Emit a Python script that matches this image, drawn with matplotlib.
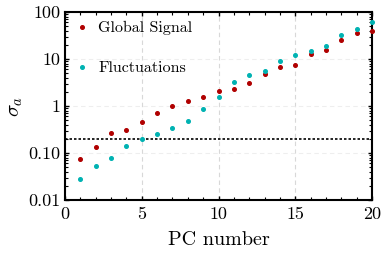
import matplotlib
matplotlib.use("Agg")
import matplotlib.pyplot as plt
from matplotlib.ticker import (FixedLocator, FixedFormatter, LogLocator,
                               NullFormatter, MultipleLocator)

plt.rcParams["font.family"] = "serif"
plt.rcParams["font.serif"] = ["cmr10"]
plt.rcParams["mathtext.fontset"] = "cm"
plt.rcParams["axes.unicode_minus"] = False

PC = list(range(1, 21))
GLOBAL_SIGNAL = [0.075, 0.131, 0.263, 0.315, 0.45, 0.71, 1.0, 1.30, 1.58, 2.11,
                 2.26, 3.07, 4.77, 6.7, 7.5, 12.5, 15.9, 25.9, 35.3, 40.2]
FLUCTUATIONS = [0.028, 0.054, 0.078, 0.144, 0.20, 0.251, 0.347, 0.473, 0.864, 1.53,
                3.23, 4.47, 5.52, 9.0, 11.9, 14.7, 18.7, 32.0, 43.6, 60.4]
THRESHOLD = 0.2
YTICKS = [0.01, 0.1, 1, 10, 100]
YTICK_LABELS = ["0.01", "0.10", "1", "10", "100"]

RED = "#b00000"
CYAN = "#00b2b2"

fig = plt.figure(figsize=(3.82, 2.56), dpi=100)
ax = fig.add_axes([65 / 382, 56 / 256, 307 / 382, 188 / 256])

ax.plot(PC, GLOBAL_SIGNAL, "o", color=RED, markersize=2.6, label="Global Signal",
        clip_on=False, zorder=3)
ax.plot(PC, FLUCTUATIONS, "o", color=CYAN, markersize=2.6, label="Fluctuations",
        clip_on=False, zorder=3)
ax.axhline(THRESHOLD, color="black", linestyle=(0, (1.5, 1.2)), linewidth=1.2)

ax.set_yscale("log")
ax.set_xlim(0, 20)
ax.set_ylim(0.01, 100)
ax.yaxis.set_major_locator(FixedLocator(YTICKS))
ax.yaxis.set_major_formatter(FixedFormatter(YTICK_LABELS))
ax.yaxis.set_minor_locator(LogLocator(base=10, subs=range(2, 10)))
ax.yaxis.set_minor_formatter(NullFormatter())
ax.set_xticks([0, 5, 10, 15, 20])
ax.xaxis.set_minor_locator(MultipleLocator(1))

ax.grid(True, which="major", axis="x", color="#d8d8d8", linestyle=(0, (4, 3)),
        linewidth=0.8)
ax.grid(True, which="major", axis="y", color="#eeeeee", linestyle=(0, (4, 3)),
        linewidth=0.8)
ax.tick_params(which="both", direction="in", top=True, right=True, labelsize=13)
ax.tick_params(which="major", length=3, width=1)
ax.tick_params(which="minor", length=2, width=0.8)
ax.tick_params(axis="x", pad=5)
for s in ax.spines.values():
    s.set_linewidth(1.5)

ax.set_xlabel("PC number", fontsize=14.5, labelpad=6)
ax.set_ylabel(r"$\sigma_a$", fontsize=15, labelpad=2)

ax.legend(loc="upper left", frameon=False, fontsize=11.5, handletextpad=0.5,
          labelspacing=1.6, markerscale=1.0, handlelength=1.0,
          borderaxespad=0.0, bbox_to_anchor=(0.01, 0.985))

fig.savefig("out.png", dpi=100)
